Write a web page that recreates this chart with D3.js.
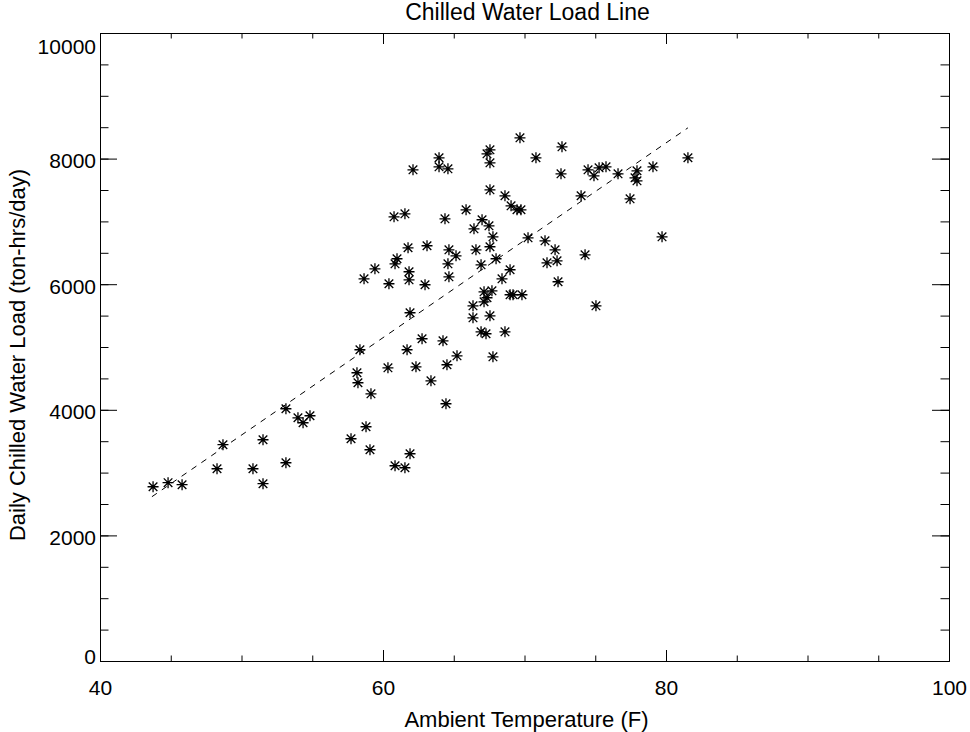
<!DOCTYPE html>
<html>
<head>
<meta charset="utf-8">
<script src="https://cdn.jsdelivr.net/npm/d3@7"></script>
<style>
  body { margin: 0; background: #fff; }
  svg text { font-family: "Liberation Sans", Arial, sans-serif; fill: #000; }
</style>
</head>
<body>
<svg id="chart" width="970" height="732"></svg>
<script>
// ambient temperature (F) of each day
var temps = [
  43.75, 44.81, 45.80, 48.27, 48.69, 50.81, 51.52, 51.52, 53.14, 53.14, 53.99, 54.35, 54.84,
  58.37, 58.16, 58.23, 59.15, 58.80, 57.74, 59.08, 60.35, 61.70, 62.33, 62.76, 64.24, 65.23,
  64.52, 63.39, 64.45, 61.91, 60.85, 61.55, 61.91, 67.77, 66.36, 66.36, 67.56, 66.93, 67.28, 68.62,
  63.96, 63.96, 64.59, 62.12, 60.78, 61.55, 64.38, 65.87, 66.43, 61.77, 63.11, 64.66, 65.16,
  60.99, 60.85, 64.59, 59.43, 58.66, 60.42, 61.84, 61.84, 62.97, 64.66,
  69.68, 72.65, 67.56, 67.35, 67.56, 70.81, 72.58, 67.56, 68.62, 69.05, 69.47, 69.75, 67.00,
  67.49, 67.77, 70.25, 71.45, 72.16, 67.56, 66.57, 72.30, 71.59, 67.99, 66.93, 68.98, 68.41,
  72.37, 67.14, 67.70, 67.35, 67.14, 68.98, 69.19, 69.82,
  74.49, 75.27, 75.76, 74.91, 76.61, 77.95, 77.81, 77.95, 79.08, 81.55, 74.00, 77.46, 79.72,
  74.28, 75.05
];
// daily chilled water load (ton-hrs/day)
var loads = [
  2775, 2839, 2807, 3061, 3444, 3061, 3523, 2823, 3157, 4017, 3873, 3794, 3905,
  4956, 4590, 4431, 4255, 3730, 3539, 3364, 4669, 4956, 4685, 5131, 5099, 4860,
  4717, 4462, 4096, 3300, 3109, 3077, 5545, 4844, 5656, 5465, 5497, 5242, 5211, 5242,
  8013, 7869, 7837, 7821, 7073, 7121, 7041, 7185, 6882, 6580, 6612, 6548, 6452,
  6405, 6325, 6325, 6245, 6086, 6007, 6198, 6070, 5991, 6118,
  8331, 8188, 8140, 8076, 7933, 8013, 7758, 7503, 7408, 7248, 7185, 7185, 7026,
  6930, 6755, 6739, 6691, 6548, 6596, 6548, 6373, 6341, 6405, 6309, 6230, 6086,
  6039, 5879, 5895, 5784, 5720, 5832, 5832, 5832,
  7821, 7853, 7869, 7726, 7758, 7806, 7694, 7646, 7869, 8013, 7408, 7360, 6755,
  6468, 5656
];
// load line end points
var lineTemps = [43.67, 81.55];
var lineLoads = [2616, 8490];

var xMajor = [40, 60, 80, 100];
var xMinor = d3.range(40, 100.1, 5);
var yMajor = d3.range(0, 10001, 2000);
var yMinor = d3.range(0, 10001, 500);

var svg = d3.select("#chart");
var pLeft = 100, pRight = 949, pTop = 33, pBottom = 661;

var x = d3.scaleLinear().domain([40, 100]).range([pLeft, pRight]);
var y = d3.scaleLinear().domain([0, 10000]).range([pBottom, pTop]);

function styleAxis(g) {
  g.select(".domain").attr("stroke", "#000").attr("stroke-width", 1);
  g.selectAll(".tick line").attr("stroke", "#000").attr("stroke-width", 1);
}

// bottom axis
svg.append("g")
  .attr("transform", "translate(0," + pBottom + ")")
  .call(d3.axisBottom(x).tickValues(xMinor).tickSize(-5.5).tickSizeOuter(0).tickFormat(""))
  .call(styleAxis);
var bx = svg.append("g")
  .attr("transform", "translate(0," + pBottom + ")")
  .call(d3.axisBottom(x).tickValues(xMajor).tickSize(-11).tickSizeOuter(0).tickPadding(19).tickFormat(d3.format("d")))
  .call(styleAxis);
bx.selectAll("text").attr("font-size", 21);

// top axis
svg.append("g")
  .attr("transform", "translate(0," + pTop + ")")
  .call(d3.axisTop(x).tickValues(xMinor).tickSize(-5.5).tickSizeOuter(0).tickFormat(""))
  .call(styleAxis);
svg.append("g")
  .attr("transform", "translate(0," + pTop + ")")
  .call(d3.axisTop(x).tickValues(xMajor).tickSize(-11).tickSizeOuter(0).tickFormat(""))
  .call(styleAxis);

// left axis
svg.append("g")
  .attr("transform", "translate(" + pLeft + ",0)")
  .call(d3.axisLeft(y).tickValues(yMinor).tickSize(-8.5).tickSizeOuter(0).tickFormat(""))
  .call(styleAxis);
var ly = svg.append("g")
  .attr("transform", "translate(" + pLeft + ",0)")
  .call(d3.axisLeft(y).tickValues(yMajor).tickSize(-17).tickSizeOuter(0).tickPadding(4).tickFormat(d3.format("d")))
  .call(styleAxis);
ly.selectAll("text")
  .attr("font-size", 21)
  .attr("dy", function(d) {
    if (d == 0) return "2";
    if (d == 10000) return "20";
    return "9";
  });

// right axis
svg.append("g")
  .attr("transform", "translate(" + pRight + ",0)")
  .call(d3.axisRight(y).tickValues(yMinor).tickSize(-8.5).tickSizeOuter(0).tickFormat(""))
  .call(styleAxis);
svg.append("g")
  .attr("transform", "translate(" + pRight + ",0)")
  .call(d3.axisRight(y).tickValues(yMajor).tickSize(-17).tickSizeOuter(0).tickFormat(""))
  .call(styleAxis);

// titles
svg.append("text")
  .attr("x", (pLeft + pRight) / 2 + 3)
  .attr("y", 20)
  .attr("text-anchor", "middle")
  .attr("font-size", 23)
  .text("Chilled Water Load Line");

svg.append("text")
  .attr("x", (pLeft + pRight) / 2 + 2)
  .attr("y", 727)
  .attr("text-anchor", "middle")
  .attr("font-size", 22)
  .text("Ambient Temperature (F)");

svg.append("text")
  .attr("transform", "translate(25,355) rotate(-90)")
  .attr("text-anchor", "middle")
  .attr("font-size", 22)
  .text("Daily Chilled Water Load (ton-hrs/day)");

// load line
var lineData = lineTemps.map(function(t, i) { return [t, lineLoads[i]]; });
svg.append("path")
  .datum(lineData)
  .attr("fill", "none")
  .attr("stroke", "#000")
  .attr("stroke-width", 1)
  .attr("stroke-dasharray", "6,6")
  .attr("d", d3.line().x(function(d) { return x(d[0]); }).y(function(d) { return y(d[1]); }));

// asterisk markers
var r = 5.5, q = 4.3;
var star = "M0," + (-r) + "V" + r + "M" + (-r) + ",0H" + r +
  "M" + (-q) + "," + (-q) + "L" + q + "," + q + "M" + (-q) + "," + q + "L" + q + "," + (-q);
var points = temps.map(function(t, i) { return {t: t, load: loads[i]}; });
svg.append("g")
  .selectAll("path")
  .data(points)
  .enter().append("path")
  .attr("transform", function(d) { return "translate(" + x(d.t) + "," + y(d.load) + ")"; })
  .attr("d", star)
  .attr("fill", "none")
  .attr("stroke", "#000")
  .attr("stroke-width", 1.3);
</script>
</body>
</html>
